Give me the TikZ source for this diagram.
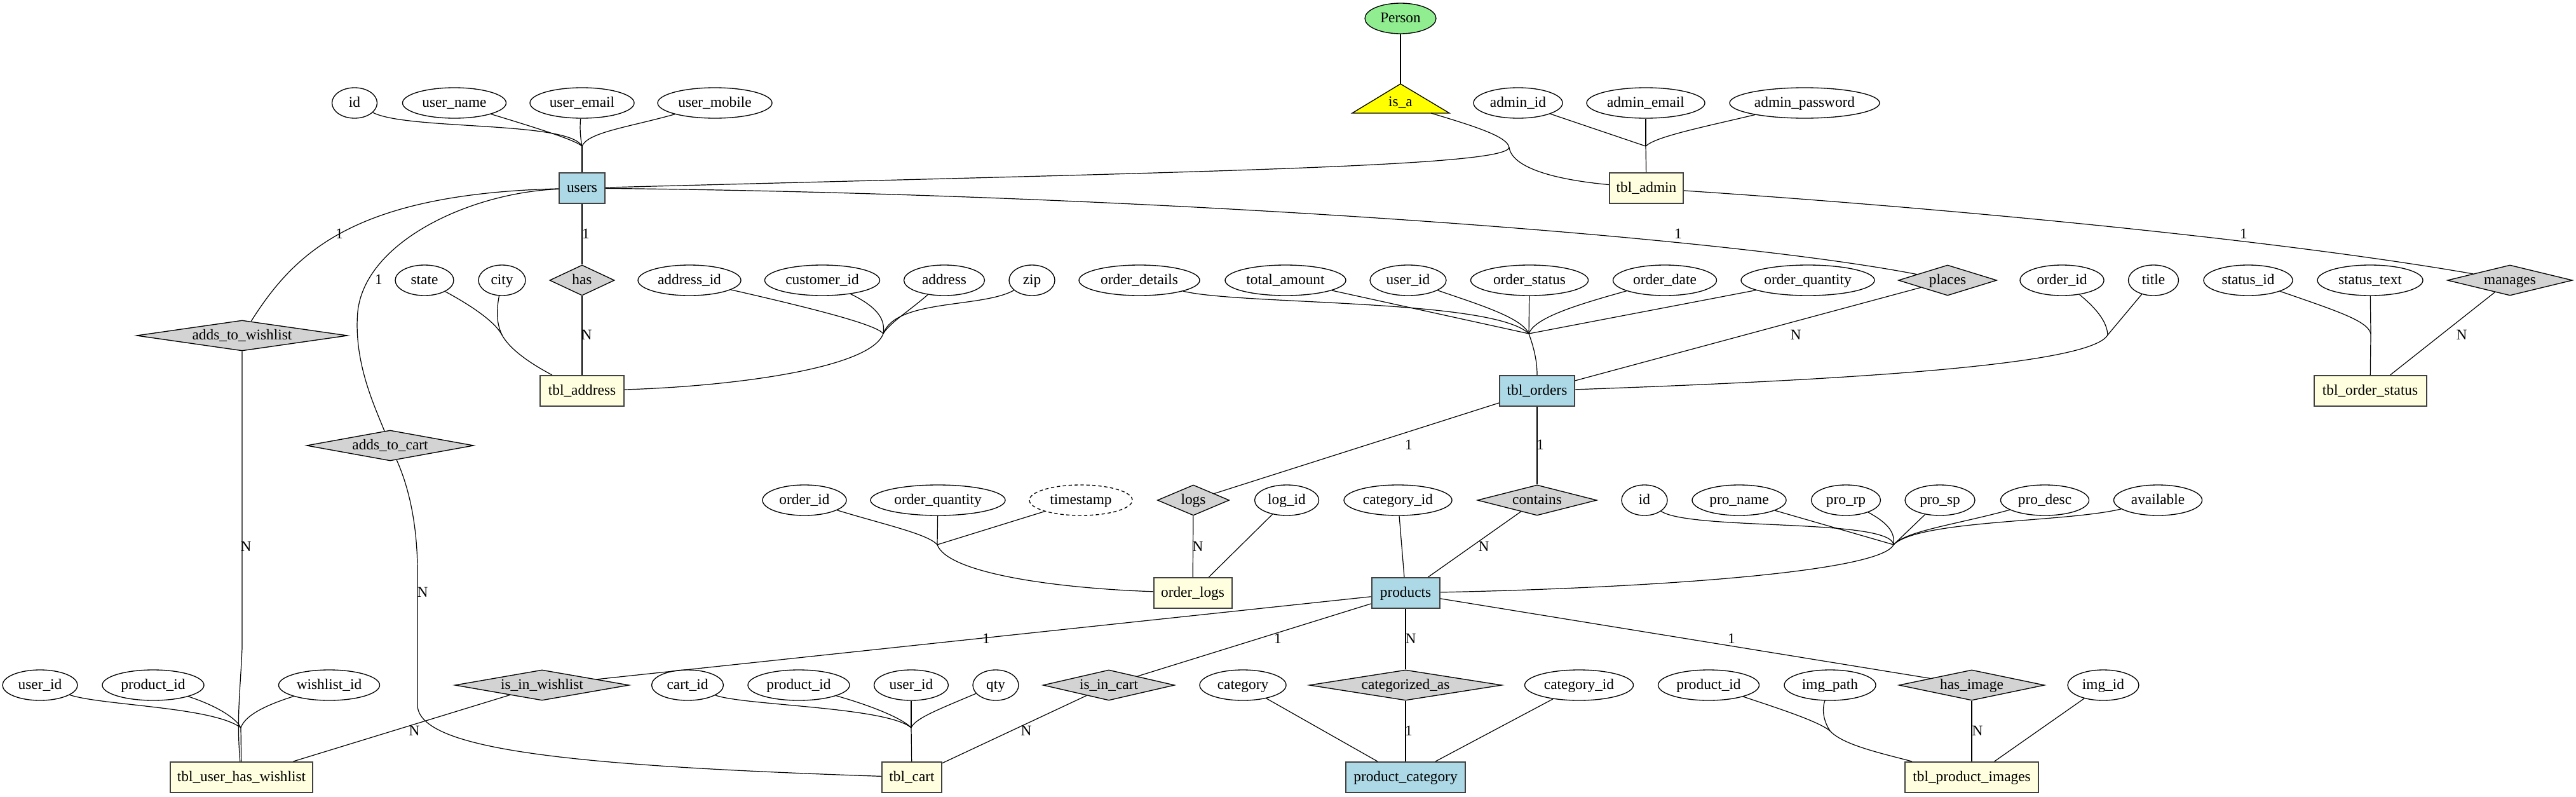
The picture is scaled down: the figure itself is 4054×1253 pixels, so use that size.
\documentclass[tikz,border=0pt]{standalone}
\usepackage{fontspec}
\setmainfont{Liberation Serif}
\usetikzlibrary{shapes.geometric}
\definecolor{entblue}{HTML}{ADD8E6}
\definecolor{entyellow}{HTML}{FFFFE0}
\definecolor{relgrey}{HTML}{D3D3D3}
\definecolor{persongreen}{HTML}{90EE90}
\definecolor{isayellow}{HTML}{FFFF00}
\newcommand\tx[1]{\makebox[0pt]{#1}}
\tikzset{
  gv/.style={font=\fontsize{17.5}{21}\selectfont, inner sep=0pt, minimum height=36pt, text height=13pt, text depth=3pt},
  attr/.style={gv, ellipse, draw=black, line width=1pt, fill=white, minimum width={#1*0.75pt}},
  dattr/.style={attr=#1, dash pattern=on 4pt off 3pt},
  ent/.style={gv, rectangle, draw=black!75, line width=1.5pt, fill=entblue, minimum width={#1*0.75pt}},
  wk/.style={ent=#1, fill=entyellow},
  rel/.style={gv, diamond, draw=black, line width=1pt, fill=relgrey, minimum width={#1*0.75pt}},
  card/.style={font=\fontsize{17.5}{21}\selectfont, inner sep=0pt},
  conn/.style={draw=black, line width=0.9pt}
}
\begin{document}
\begin{tikzpicture}[x=0.75pt,y=-0.75pt]
\useasboundingbox (0,0) rectangle (4054,1253);
\fill[white] (0,0) rectangle (4054,1253);

% ---------- top: Person / is_a ----------
\node[attr=112, fill=persongreen] (person) at (2204,29) {\tx{Person}};
\coordinate (isaTop) at (2204,132);
\coordinate (isaL) at (2128,178);
\coordinate (isaR) at (2281,178);
\coordinate (isaOut) at (2252,178);
\filldraw[fill=isayellow, draw=black, line width=1pt] (isaTop) -- (isaR) -- (isaL) -- cycle;
\node[gv] (isa) at (2204,161) {\tx{is\_a}};

% ---------- row 162 ----------
\node[attr=71]  (u_id)     at (558,162)  {\tx{id}};
\node[attr=163] (u_name)   at (715,162)  {\tx{user\_name}};
\node[attr=164] (u_email)  at (916,162)  {\tx{user\_email}};
\node[attr=180] (u_mobile) at (1125,162) {\tx{user\_mobile}};
\node[attr=140] (a_id)     at (2389,162) {\tx{admin\_id}};
\node[attr=186] (a_email)  at (2590,162) {\tx{admin\_email}};
\node[attr=236] (a_pw)     at (2840,162) {\tx{admin\_password}};

% ---------- row 296 ----------
\node[ent=72] (users) at (916,296)  {\tx{users}};
\node[wk=116] (admin) at (2591,296) {\tx{tbl\_admin}};

% ---------- row 441 ----------
\node[attr=92]  (state)     at (668,441)  {\tx{state}};
\node[attr=74]  (city)      at (790,441)  {\tx{city}};
\node[rel=102]  (has)       at (916,441)  {\tx{has}};
\node[attr=162] (addr_id)   at (1085,441) {\tx{address\_id}};
\node[attr=181] (cust_id)   at (1294,441) {\tx{customer\_id}};
\node[attr=127] (address)   at (1486,441) {\tx{address}};
\node[attr=72]  (zip)       at (1624,441) {\tx{zip}};
\node[attr=190] (o_details) at (1793,441) {\tx{order\_details}};
\node[attr=190] (o_total)   at (2023,441) {\tx{total\_amount}};
\node[attr=120] (o_user)    at (2216,441) {\tx{user\_id}};
\node[attr=185] (o_status)  at (2407,441) {\tx{order\_status}};
\node[attr=163] (o_date)    at (2620,441) {\tx{order\_date}};
\node[attr=210] (o_qty)     at (2845,441) {\tx{order\_quantity}};
\node[rel=155]  (places)    at (3065,441) {\tx{places}};
\node[attr=132] (oo_id)     at (3245,441) {\tx{order\_id}};
\node[attr=79]  (title)     at (3389,441) {\tx{title}};
\node[attr=140] (st_id)     at (3538,441) {\tx{status\_id}};
\node[attr=166] (st_text)   at (3730,441) {\tx{status\_text}};
\node[rel=197]  (manages)   at (3950,441) {\tx{manages}};

\node[rel=332] (atw) at (381,528) {\tx{adds\_to\_wishlist}};

% ---------- row 615 ----------
\node[wk=132]  (tad)  at (916,615)  {\tx{tbl\_address}};
\node[ent=118] (tord) at (2419,615) {\tx{tbl\_orders}};
\node[wk=177]  (tos)  at (3730,615) {\tx{tbl\_order\_status}};

\node[rel=263] (atc) at (614,701) {\tx{adds\_to\_cart}};

% ---------- row 787 ----------
\node[attr=132]  (l_oid)     at (1266,787) {\tx{order\_id}};
\node[attr=212]  (l_oq)      at (1476,787) {\tx{order\_quantity}};
\node[dattr=162] (tstamp)    at (1701,787) {\tx{timestamp}};
\node[rel=113]   (logs)      at (1878,787) {\tx{logs}};
\node[attr=101]  (log_id)    at (2025,787) {\tx{log\_id}};
\node[attr=170]  (p_cat_id)  at (2200,787) {\tx{category\_id}};
\node[rel=188]   (contains)  at (2419,787) {\tx{contains}};
\node[attr=72]   (p_id)      at (2588,787) {\tx{id}};
\node[attr=148]  (pro_name)  at (2737,787) {\tx{pro\_name}};
\node[attr=109]  (pro_rp)    at (2905,787) {\tx{pro\_rp}};
\node[attr=110]  (pro_sp)    at (3053,787) {\tx{pro\_sp}};
\node[attr=139]  (pro_desc)  at (3218,787) {\tx{pro\_desc}};
\node[attr=139]  (available) at (3396,787) {\tx{available}};

% ---------- row 933 ----------
\node[wk=123]  (olog) at (1877,933) {\tx{order\_logs}};
\node[ent=107] (prod) at (2212,933) {\tx{products}};

% ---------- row 1078 ----------
\node[attr=118] (w_user_id)   at (63,1078)   {\tx{user\_id}};
\node[attr=160] (w_prod_id)   at (241,1078)  {\tx{product\_id}};
\node[attr=159] (wishlist_id) at (518,1078)  {\tx{wishlist\_id}};
\node[rel=274]  (iiw)         at (853,1078)  {\tx{is\_in\_wishlist}};
\node[attr=113] (cart_id)     at (1082,1078) {\tx{cart\_id}};
\node[attr=160] (c_prod_id)   at (1257,1078) {\tx{product\_id}};
\node[attr=117] (c_user_id)   at (1434,1078) {\tx{user\_id}};
\node[attr=72]  (qty)         at (1567,1078) {\tx{qty}};
\node[rel=207]  (iic)         at (1745,1078) {\tx{is\_in\_cart}};
\node[attr=136] (category)    at (1956,1078) {\tx{category}};
\node[rel=303]  (cat_as)      at (2212,1078) {\tx{categorized\_as}};
\node[attr=171] (pc_cat_id)   at (2485,1078) {\tx{category\_id}};
\node[attr=159] (i_prod_id)   at (2689,1078) {\tx{product\_id}};
\node[attr=144] (img_path)    at (2880,1078) {\tx{img\_path}};
\node[rel=229]  (hi)          at (3103,1078) {\tx{has\_image}};
\node[attr=112] (img_id)      at (3310,1078) {\tx{img\_id}};

% ---------- row 1223 ----------
\node[wk=224]  (uhw)   at (380,1223)  {\tx{tbl\_user\_has\_wishlist}};
\node[wk=94]   (tcart) at (1435,1223) {\tx{tbl\_cart}};
\node[ent=188] (pcat)  at (2212,1223) {\tx{product\_category}};
\node[wk=210]  (tpi)   at (3103,1223) {\tx{tbl\_product\_images}};

% ---------- merge points ----------
\coordinate (mU)  at (916,230);
\coordinate (mA)  at (2590,230);
\coordinate (mI)  at (2375,232);
\coordinate (mS)  at (790,527);
\coordinate (mAd) at (1390,525);
\coordinate (mO)  at (2406,525);
\coordinate (mT)  at (3317,527);
\coordinate (mOS) at (3731,525);
\coordinate (mL)  at (1475,857);
\coordinate (mP)  at (2980,857);
\coordinate (mW)  at (379,1145);
\coordinate (mC)  at (1434,1145);
\coordinate (mG)  at (2880,1150);

% ---------- connectors ----------
% users attributes
\path[conn] (u_id) .. controls (640,205) and (895,190) .. (mU);
\path[conn] (u_name) .. controls (840,200) and (905,220) .. (mU);
\path[conn] (u_email) .. controls (912,205) and (914,220) .. (mU);
\path[conn] (u_mobile) .. controls (990,200) and (925,208) .. (mU);
\path[conn] (mU) -- (users);
% admin attributes
\path[conn] (a_id) -- (mA);
\path[conn] (a_email) -- (mA);
\path[conn] (a_pw) .. controls (2680,200) and (2605,215) .. (mA);
\path[conn] (mA) -- (admin);
% is_a
\path[conn] (person) -- (isaTop);
\path[conn] (isaOut) .. controls (2325,200) and (2372,215) .. (mI);
\path[conn] (mI) .. controls (2370,262) and (1900,270) .. (users);
\path[conn] (mI) .. controls (2380,265) and (2450,283) .. (admin);
% users relationships
\path[conn] (users) .. controls (1800,305) and (2700,370) .. (places);
\path[conn] (places) -- (tord);
\path[conn] (users) -- (has);
\path[conn] (has) -- (tad);
\path[conn] (users) .. controls (560,305) and (465,395) .. (atw);
\path[conn] (users) .. controls (740,303) and (575,380) .. (563,490) .. controls (556,570) and (590,640) .. (atc);
\path[conn] (atw) -- (381,1020) .. controls (378,1090) and (372,1130) .. (uhw);
\path[conn] (atc) .. controls (645,770) and (657,830) .. (657,900) -- (657,1110) .. controls (660,1180) and (900,1205) .. (tcart);
% admin manages
\path[conn] (admin) .. controls (3100,330) and (3600,380) .. (manages);
\path[conn] (manages) -- (tos);
% address attributes
\path[conn] (state) .. controls (740,480) and (778,505) .. (mS);
\path[conn] (city) .. controls (780,495) and (783,512) .. (mS);
\path[conn] (mS) .. controls (805,555) and (850,580) .. (tad);
\path[conn] (addr_id) .. controls (1300,490) and (1380,512) .. (mAd);
\path[conn] (cust_id) .. controls (1385,485) and (1393,505) .. (mAd);
\path[conn] (address) .. controls (1430,490) and (1400,508) .. (mAd);
\path[conn] (zip) .. controls (1545,485) and (1410,470) .. (mAd);
\path[conn] (mAd) .. controls (1370,580) and (1150,608) .. (tad);
% orders attributes
\path[conn] (o_details) .. controls (1950,480) and (2350,470) .. (mO);
\path[conn] (o_total) -- (mO);
\path[conn] (o_user) .. controls (2330,480) and (2395,500) .. (mO);
\path[conn] (o_status) -- (mO);
\path[conn] (o_date) .. controls (2480,480) and (2415,500) .. (mO);
\path[conn] (o_qty) -- (mO);
\path[conn] (mO) .. controls (2415,550) and (2419,570) .. (tord);
\path[conn] (oo_id) .. controls (3305,490) and (3316,510) .. (mT);
\path[conn] (title) -- (mT);
\path[conn] (mT) .. controls (3290,575) and (2900,598) .. (tord);
% order status attributes
\path[conn] (st_id) .. controls (3680,490) and (3726,505) .. (mOS);
\path[conn] (st_text) -- (mOS);
\path[conn] (mOS) -- (tos);
% logs
\path[conn] (tord) -- (logs);
\path[conn] (logs) -- (olog);
\path[conn] (log_id) -- (olog);
\path[conn] (l_oid) .. controls (1390,825) and (1460,840) .. (mL);
\path[conn] (l_oq) -- (mL);
\path[conn] (tstamp) -- (mL);
\path[conn] (mL) .. controls (1490,900) and (1650,925) .. (olog);
% contains
\path[conn] (tord) -- (contains);
\path[conn] (contains) -- (prod);
\path[conn] (p_cat_id) -- (prod);
% product attributes
\path[conn] (p_id) .. controls (2660,835) and (2975,815) .. (mP);
\path[conn] (pro_name) -- (mP);
\path[conn] (pro_rp) .. controls (2975,825) and (2982,840) .. (mP);
\path[conn] (pro_sp) -- (mP);
\path[conn] (pro_desc) .. controls (3080,825) and (3000,835) .. (mP);
\path[conn] (available) .. controls (3250,822) and (3020,818) .. (mP);
\path[conn] (mP) .. controls (2960,900) and (2600,925) .. (prod);
% products relationships
\path[conn] (prod) -- (iiw);
\path[conn] (iiw) -- (uhw);
\path[conn] (prod) -- (iic);
\path[conn] (iic) -- (tcart);
\path[conn] (prod) -- (cat_as);
\path[conn] (cat_as) -- (pcat);
\path[conn] (prod) -- (hi);
\path[conn] (hi) -- (tpi);
\path[conn] (category) -- (pcat);
\path[conn] (pc_cat_id) -- (pcat);
\path[conn] (img_id) -- (tpi);
\path[conn] (i_prod_id) .. controls (2800,1115) and (2862,1135) .. (mG);
\path[conn] (img_path) .. controls (2866,1120) and (2872,1138) .. (mG);
\path[conn] (mG) .. controls (2900,1172) and (2960,1185) .. (tpi);
% wishlist attributes
\path[conn] (w_user_id) .. controls (160,1110) and (335,1112) .. (mW);
\path[conn] (w_prod_id) .. controls (340,1110) and (372,1130) .. (mW);
\path[conn] (wishlist_id) .. controls (410,1112) and (385,1128) .. (mW);
\path[conn] (mW) -- (uhw);
% cart attributes
\path[conn] (cart_id) .. controls (1170,1110) and (1395,1112) .. (mC);
\path[conn] (c_prod_id) .. controls (1370,1110) and (1420,1130) .. (mC);
\path[conn] (c_user_id) -- (mC);
\path[conn] (qty) .. controls (1480,1115) and (1440,1130) .. (mC);
\path[conn] (mC) -- (tcart);

% ---------- cardinality labels ----------
\node[card] (k1)  at (534,368)   {1};
\node[card] (k2)  at (922,368)   {1};
\node[card] (k3)  at (2641,368)  {1};
\node[card] (k4)  at (3531,368)  {1};
\node[card] (k5)  at (596,440)   {1};
\node[card] (k6)  at (923,527)   {N};
\node[card] (k7)  at (2826,527)  {N};
\node[card] (k8)  at (3874,527)  {N};
\node[card] (k9)  at (2217,700)  {1};
\node[card] (k10) at (2424,700)  {1};
\node[card] (k11) at (387,860)   {N};
\node[card] (k12) at (1885,860)  {N};
\node[card] (k13) at (2335,860)  {N};
\node[card] (k14) at (665,932)   {N};
\node[card] (k15) at (1552,1005) {1};
\node[card] (k16) at (2011,1005) {1};
\node[card] (k17) at (2220,1005) {N};
\node[card] (k18) at (2725,1005) {1};
\node[card] (k19) at (652,1150)  {N};
\node[card] (k20) at (1615,1150) {N};
\node[card] (k21) at (2217,1150) {1};
\node[card] (k22) at (3112,1150) {N};
\end{tikzpicture}
\end{document}
